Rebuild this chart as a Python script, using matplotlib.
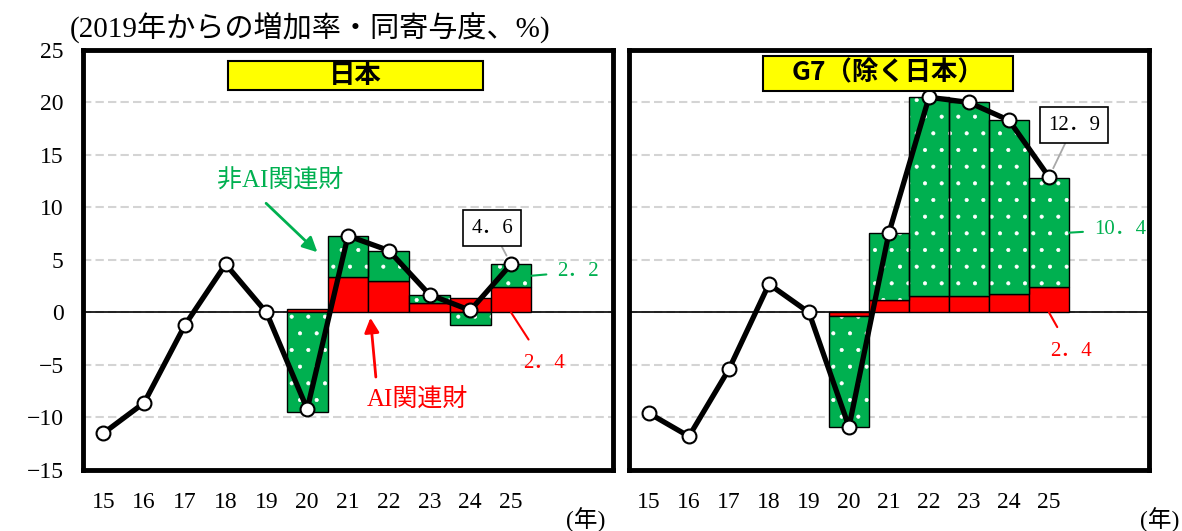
import numpy as np
import matplotlib
matplotlib.use("Agg")
import matplotlib.pyplot as plt
from matplotlib.patches import Rectangle

plt.rcParams['font.family'] = ['Liberation Serif', 'Noto Sans CJK JP']
plt.rcParams['hatch.linewidth'] = 0.5

# years shown on the x axis (20xx) and the years that have a breakdown
years = np.arange(15, 26)
year_labels = [str(y) for y in years]
bar_years = np.arange(20, 26)

# Japan: growth since 2019 and contributions (%)
jp_total = [-11.5, -8.6, -1.2, 4.6, 0.0, -9.2, 7.3, 5.9, 1.7, 0.2, 4.6]
jp_ai = [0.3, 3.4, 3.0, 0.9, 1.4, 2.4]
jp_non_ai = [-9.5, 3.9, 2.9, 0.8, -1.2, 2.2]

# G7 excluding Japan
g7_total = [-9.6, -11.8, -5.4, 2.7, 0.0, -10.9, 7.6, 20.5, 20.0, 18.3, 12.9]
g7_ai = [-0.3, 1.2, 1.6, 1.6, 1.8, 2.4]
g7_non_ai = [-10.6, 6.4, 18.9, 18.4, 16.5, 10.4]

GREEN = '#00B050'
RED = '#FF0000'
CJK = ['Noto Sans CJK JP', 'DejaVu Sans']


def fw(v):
    # value text with a full-width decimal point
    return f"{v:.1f}".replace('.', '\uff0e')


def draw_panel(ax, total, ai, non_ai, title, box):
    ai = np.array(ai)
    non = np.array(non_ai)
    base = np.where(np.sign(ai) == np.sign(non), ai, 0)

    ax.set_axisbelow(True)
    ax.bar(bar_years, ai, width=1.0, color=RED, edgecolor='black', lw=1.0, zorder=2)
    ax.bar(bar_years, non, bottom=base, width=1.0, color=GREEN, edgecolor='white',
           hatch='.', lw=0, zorder=2)
    ax.bar(bar_years, non, bottom=base, width=1.0, fill=False, edgecolor='black',
           lw=1.0, zorder=2.1)
    ax.axhline(0, color='black', lw=1.2, zorder=1.8)
    ax.plot(years, total, color='black', lw=3.8, marker='o', ms=10, mfc='white',
            mec='black', mew=1.5, zorder=4, solid_joinstyle='round')

    ax.set_xlim(14.5, 27.5)
    ax.set_ylim(-15, 25)
    ax.set_yticks(range(-15, 26, 5))
    ax.set_xticks(years, year_labels)
    ax.grid(axis='y', color='#d4d4d4', ls=(0, (4, 2)), lw=1.5)
    ax.tick_params(length=0, labelsize=17)
    ax.tick_params(axis='x', pad=16)
    ax.tick_params(axis='y', pad=14)
    for s in ax.spines.values():
        s.set_linewidth(3.5)

    x0, y0, w, h = box
    ax.add_patch(Rectangle((x0, y0), w, h, transform=ax.transAxes, fc='#FFFF00',
                           ec='black', lw=1.5, zorder=5))
    ax.text(x0 + w / 2, y0 + h / 2, title, transform=ax.transAxes, ha='center',
            va='center', fontsize=19, fontweight='bold', family=CJK, zorder=6)


fig = plt.figure(figsize=(11.82, 5.31), dpi=100)
ax1 = fig.add_axes([0.0702, 0.1149, 0.4484, 0.791])
ax2 = fig.add_axes([0.5321, 0.1149, 0.4400, 0.791])

draw_panel(ax1, jp_total, jp_ai, jp_non_ai, '日本', (0.2736, 0.905, 0.4811, 0.069))
draw_panel(ax2, g7_total, g7_ai, g7_non_ai, 'G7（除く日本）', (0.2577, 0.903, 0.4808, 0.083))
ax2.tick_params(labelleft=False)

box_style = dict(boxstyle='square,pad=0.4', fc='white', ec='black', lw=1.2)
gray_line = dict(arrowstyle='-', color='#a8a8a8', lw=1.3, shrinkA=0, shrinkB=7)

# Japan annotations
ax1.annotate(fw(jp_total[-1]), xy=(years[-1], jp_total[-1]), xytext=(-19, 36),
             textcoords='offset pixels', ha='center', va='center', fontsize=15,
             bbox=box_style, arrowprops=gray_line, zorder=6)
ax1.annotate(fw(jp_non_ai[-1]), xy=(bar_years[-1] + 0.5, jp_ai[-1] + jp_non_ai[-1] / 2),
             xytext=(26, 4), textcoords='offset pixels', ha='left', va='center',
             fontsize=15, color=GREEN,
             arrowprops=dict(arrowstyle='-', color=GREEN, lw=1.5, shrinkA=6, shrinkB=0))
ax1.annotate(fw(jp_ai[-1]), xy=(bar_years[-1], 0), xytext=(33, -51),
             textcoords='offset pixels', ha='center', va='center', fontsize=15,
             color=RED,
             arrowprops=dict(arrowstyle='-', color=RED, lw=1.5, shrinkA=10, shrinkB=0))
ax1.annotate('非AI関連財', xy=(bar_years[1] - 0.75, jp_ai[1] + jp_non_ai[1] * 0.6),
             xytext=(-37, 71), textcoords='offset pixels', ha='center', va='center',
             fontsize=18, color=GREEN,
             arrowprops=dict(arrowstyle='-|>', color=GREEN, lw=2, mutation_scale=22,
                             relpos=(0.3, 0), shrinkA=8, shrinkB=0))
ax1.annotate('AI関連財', xy=(bar_years[1] + 0.55, -0.5), xytext=(47, -82),
             textcoords='offset pixels', ha='center', va='center', fontsize=18,
             color=RED,
             arrowprops=dict(arrowstyle='-|>', color=RED, lw=2, mutation_scale=22,
                             relpos=(0.1, 1), shrinkA=6, shrinkB=0))

# G7 annotations
ax2.annotate(fw(g7_total[-1]), xy=(years[-1], g7_total[-1]), xytext=(25, 52),
             textcoords='offset pixels', ha='center', va='center', fontsize=15,
             bbox=box_style, arrowprops=gray_line, zorder=6)
ax2.annotate(fw(g7_non_ai[-1]), xy=(bar_years[-1] + 0.5, g7_ai[-1] + g7_non_ai[-1] / 2),
             xytext=(25, 3), textcoords='offset pixels', ha='left', va='center',
             fontsize=15, color=GREEN,
             arrowprops=dict(arrowstyle='-', color=GREEN, lw=1.5, shrinkA=6, shrinkB=0))
ax2.annotate(fw(g7_ai[-1]), xy=(bar_years[-1], 0), xytext=(22, -39),
             textcoords='offset pixels', ha='center', va='center', fontsize=15,
             color=RED,
             arrowprops=dict(arrowstyle='-', color=RED, lw=1.5, shrinkA=10, shrinkB=0))

fig.text(70 / 1182, 1 - 27 / 531, '(2019年からの増加率・同寄与度、%)', ha='left',
         va='center', fontsize=21)
fig.text(586 / 1182, 1 - 520 / 531, '(年)', ha='center', va='center', fontsize=17)
fig.text(1160 / 1182, 1 - 520 / 531, '(年)', ha='center', va='center', fontsize=17)

fig.savefig('out.png', dpi=100)
